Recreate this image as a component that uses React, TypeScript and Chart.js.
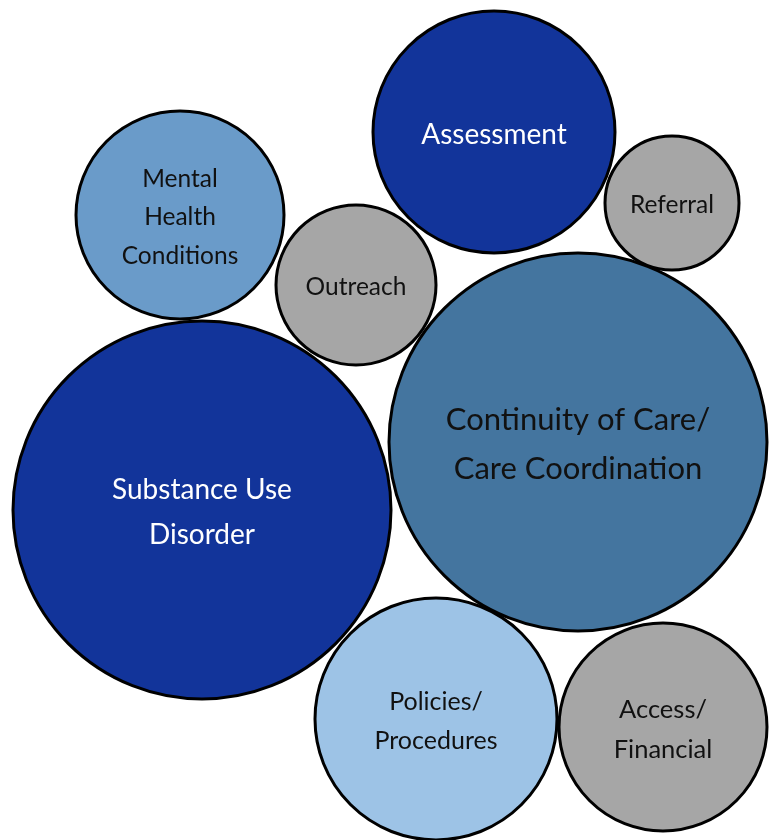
import React, { useEffect, useRef } from "react";
import { Chart, registerables } from "chart.js";

Chart.register(...registerables);

// Bubble data (x / y in chart units, r = bubble radius)
const categories = [
  "Assessment",
  "Referral",
  "Mental\nHealth\nConditions",
  "Outreach",
  "Continuity of Care/\nCare Coordination",
  "Substance Use\nDisorder",
  "Policies/\nProcedures",
  "Access/\nFinancial",
];
const xValues = [494, 672, 180, 356, 578, 202, 436, 663];
const yValues = [132, 203, 215, 285, 442, 510, 719, 727];
const rValues = [121, 67, 104, 80, 189, 189, 121, 104];

// Styles
const fillColors = ["#12349a", "#a6a6a6", "#6a9bc9", "#a6a6a6", "#44759f", "#12349a", "#9dc3e6", "#a6a6a6"];
const textColors = ["#ffffff", "#111111", "#111111", "#111111", "#111111", "#ffffff", "#111111", "#111111"];
const fontSizes = [28, 24.5, 24.5, 24.5, 31, 28, 25, 25.5];
const FONT = "Lato, 'Open Sans', sans-serif";
const BORDER = 3;
const W = 774;
const H = 840;

const labelPlugin = {
  id: "bubbleLabels",
  afterDatasetsDraw(chart: any) {
    const ctx = chart.ctx;
    const meta = chart.getDatasetMeta(0);
    meta.data.forEach((el: any, i: number) => {
      const lines = categories[i].split("\n");
      const fs = fontSizes[i];
      const lh = fs * 1.58;
      ctx.save();
      ctx.font = `${fs}px ${FONT}`;
      ctx.fillStyle = textColors[i];
      ctx.textAlign = "center";
      ctx.textBaseline = "middle";
      const start = el.y + 2.5 - ((lines.length - 1) * lh) / 2;
      lines.forEach((ln: string, j: number) => ctx.fillText(ln, el.x, start + j * lh));
      ctx.restore();
    });
  },
};

export default function App() {
  const ref = useRef<HTMLCanvasElement | null>(null);
  useEffect(() => {
    if (!ref.current) return;
    const chart = new Chart(ref.current, {
      type: "bubble",
      data: {
        datasets: [
          {
            data: categories.map((_, i) => ({ x: xValues[i], y: yValues[i], r: rValues[i] })),
            backgroundColor: fillColors,
            borderColor: "#000000",
            borderWidth: BORDER,
            hoverBorderWidth: BORDER,
            clip: false as any,
          },
        ],
      },
      options: {
        animation: false,
        responsive: false,
        maintainAspectRatio: false,
        layout: { padding: 0, autoPadding: false } as any,
        plugins: { legend: { display: false }, tooltip: { enabled: false } },
        scales: {
          x: { type: "linear", min: 0, max: W, display: false },
          y: { type: "linear", min: 0, max: H, reverse: true, display: false },
        },
      },
      plugins: [labelPlugin],
    });
    return () => chart.destroy();
  }, []);
  return (
    <div style={{ position: "absolute", left: 0, top: 0, width: W, height: H, background: "#ffffff" }}>
      <canvas ref={ref} width={W} height={H} style={{ width: W, height: H }} />
    </div>
  );
}
